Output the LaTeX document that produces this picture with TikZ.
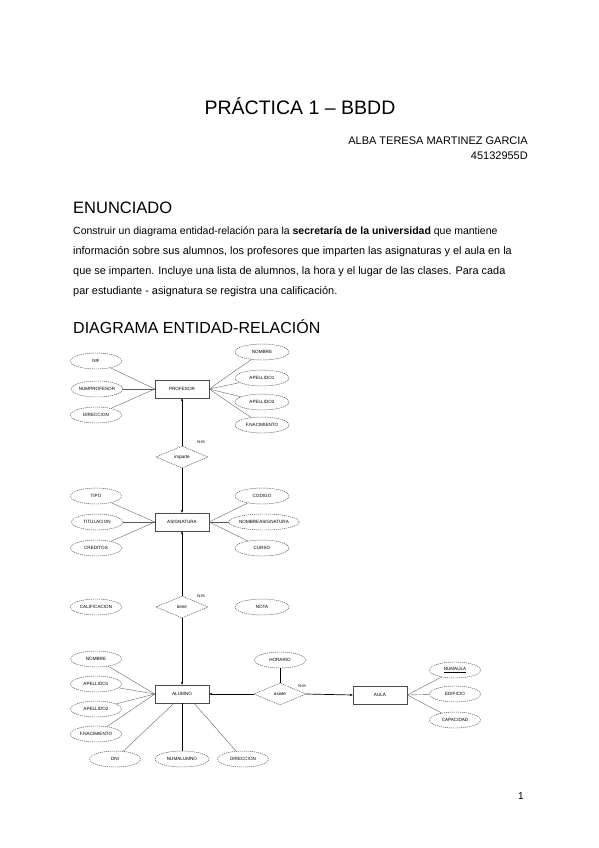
\documentclass[tikz,border=0pt]{standalone}
\usepackage{fontspec}
\setmainfont{Liberation Sans}
\usetikzlibrary{arrows.meta,shapes.geometric}

\tikzset{
  diag/.style={font=\fontsize{4.6}{5}\selectfont},
  entidad/.style={diag, draw=gray!60!black, line width=0.4pt, fill=white, minimum width=54pt, minimum height=18pt, inner sep=0pt},
  atributo/.style={diag, ellipse, draw=gray!60!black, line width=0.45pt, dash pattern=on 1.2pt off 0.8pt, minimum width=51pt, minimum height=16pt, inner sep=0pt},
  relacion/.style={diag, diamond, draw=gray!60!black, line width=0.45pt, dash pattern=on 1.2pt off 0.8pt, aspect=2.4, minimum width=52pt, minimum height=22pt, inner sep=0pt},
  atrib/.style={draw=gray!70!black, line width=0.35pt},
  enlace/.style={draw=black, line width=0.7pt, -{Stealth[length=3pt,width=2.4pt]}},
  card/.style={diag, font=\fontsize{4}{4}\selectfont}
}

\begin{document}
\begin{tikzpicture}[x=1pt,y=-1pt]
    \useasboundingbox (0,0) rectangle (599,848);

    % Cabecera
    \node[anchor=base, font=\fontsize{19.5}{22}\selectfont] (titulo) at (300,114) {PRÁCTICA 1 – BBDD};
    \node[anchor=base east, inner sep=0pt, font=\fontsize{11}{12}\selectfont] (autora) at (528,144) {ALBA TERESA MARTINEZ GARCIA};
    \node[anchor=base east, inner sep=0pt, font=\fontsize{11}{12}\selectfont] (dni) at (528,159) {45132955D};

    % Enunciado
    \node[anchor=base west, inner sep=0pt, font=\fontsize{16.5}{18}\selectfont] (enunciado) at (73,213) {ENUNCIADO};
    \node[anchor=base west, inner sep=0pt, font=\fontsize{10.5}{12}\selectfont] (linea1) at (73,234) {Construir un diagrama entidad-relación para la \textbf{secretaría de la universidad} que mantiene};
    \node[anchor=base west, inner sep=0pt, font=\fontsize{10.9}{12}\selectfont] (linea2) at (73,254) {información sobre sus alumnos, los profesores que imparten las asignaturas y el aula en la};
    \node[anchor=base west, inner sep=0pt, font=\fontsize{10.9}{12}\selectfont] (linea3) at (73,274) {que se imparten. Incluye una lista de alumnos, la hora y el lugar de las clases. Para cada};
    \node[anchor=base west, inner sep=0pt, font=\fontsize{10.9}{12}\selectfont] (linea4) at (73,294) {par estudiante - asignatura se registra una calificación.};
    \node[anchor=base west, inner sep=0pt, font=\fontsize{16}{18}\selectfont] (diagrama) at (73,333) {DIAGRAMA ENTIDAD-RELACIÓN};

    % Profesor
    \node[entidad] (prof) at (182,389) {PROFESOR};
    \node[atributo] (pnif) at (96,361) {NIF};
    \node[atributo] (pnum) at (97,389) {NUMPROFESOR};
    \node[atributo] (pdir) at (96,415) {DIRECCION};
    \node[atributo, minimum width=54pt] (pnom) at (262,352) {NOMBRE};
    \node[atributo, minimum width=54pt] (pap1) at (262,378) {APELLIDO1};
    \node[atributo, minimum width=54pt] (pap2) at (262,402) {APELLIDO2};
    \node[atributo, minimum width=54pt] (pfna) at (262,425) {F.NACIMIENTO};
    \foreach \a in {pnif,pnum,pdir} \draw[atrib] (\a) -- (prof.west);
    \foreach \a in {pnom,pap1,pap2,pfna} \draw[atrib] (\a) -- (prof.east);

    % Imparte
    \node[relacion] (imparte) at (182,457) {imparte};
    \node[card] (cimp) at (201,442) {N:M};

    % Asignatura
    \node[entidad] (asig) at (182,522) {ASIGNATURA};
    \node[atributo] (atip) at (96,496) {TIPO};
    \node[atributo] (atit) at (97,522) {TITULACION};
    \node[atributo] (acre) at (96,548) {CREDITOS};
    \node[atributo, minimum width=54pt] (acod) at (262,496) {CODIGO};
    \node[atributo, minimum width=60pt] (anom) at (264,522) {NOMBREASIGNATURA};
    \node[atributo, minimum width=54pt] (acur) at (262,548) {CURSO};
    \foreach \a in {atip,atit,acre} \draw[atrib] (\a) -- (asig.west);
    \foreach \a in {acod,anom,acur} \draw[atrib] (\a) -- (asig.east);

    % Tiene
    \node[relacion] (tiene) at (182,607) {tiene};
    \node[card] (ctie) at (201,596) {N:M};
    \node[atributo] (calif) at (96,607) {CALIFICACION};
    \node[atributo, minimum width=54pt] (nota) at (262,607) {NOTA};

    % Alumno
    \node[entidad] (alum) at (182,694) {ALUMNO};
    \node[atributo] (lnom) at (96,659) {NOMBRE};
    \node[atributo] (lap1) at (96,684) {APELLIDO1};
    \node[atributo] (lap2) at (96,709) {APELLIDO2};
    \node[atributo] (lfna) at (96,734) {F.NACIMIENTO};
    \node[atributo] (ldni) at (115,759) {DNI};
    \node[atributo, minimum width=54pt] (lnum) at (182,759) {NUMALUMNO};
    \node[atributo] (ldir) at (243,759) {DIRECCION};
    \foreach \a in {lnom,lap1,lap2,lfna} \draw[atrib] (\a) -- (alum.west);
    \draw[atrib] (ldni) -- ([xshift=-8pt]alum.south);
    \draw[atrib] (ldir) -- ([xshift=12pt]alum.south);
    \draw[line width=0.7pt] (lnum) -- (alum);

    % Asiste
    \node[relacion] (asiste) at (280,694) {asiste};
    \node[card] (casi) at (302,686) {N:M};
    \node[atributo] (hora) at (280,660) {HORARIO};
    \draw[line width=0.7pt] (hora) -- (asiste);

    % Aula
    \node[entidad] (aula) at (380,695) {AULA};
    \node[atributo] (unum) at (455,670) {\underline{NUMAULA}};
    \node[atributo] (uedi) at (455,694) {EDIFICIO};
    \node[atributo] (ucap) at (455,720) {CAPACIDAD};
    \foreach \a in {unum,uedi,ucap} \draw[atrib] (\a) -- (aula.east);

    % Relaciones
    \draw[enlace] (imparte.north) -- (prof.south);
    \draw[enlace] (imparte.south) -- (asig.north);
    \draw[enlace] (tiene.north) -- (asig.south);
    \draw[enlace] (tiene.south) -- (alum.north);
    \draw[enlace] (asiste.west) -- (alum.east);
    \draw[enlace] (asiste.east) -- (aula.west);

    % Pie
    \node[anchor=base, font=\fontsize{10}{12}\selectfont] (pagina) at (521,799) {1};
\end{tikzpicture}
\end{document}
